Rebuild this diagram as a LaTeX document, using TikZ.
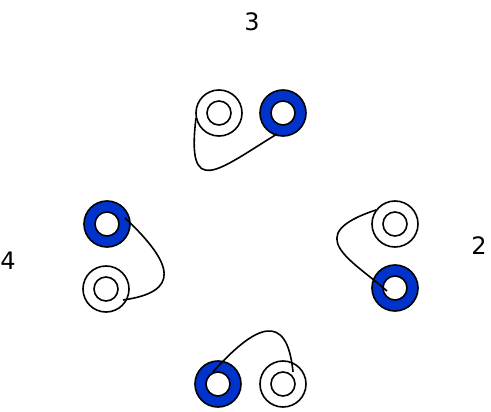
\documentclass[tikz,border=0pt]{standalone}
\usepackage{fontspec}
\setmainfont{DejaVu Sans}
\usetikzlibrary{calc}
\definecolor{ringblue}{HTML}{0033CC}
\tikzset{
  ring/.style={circle, draw=black, line width=1.6pt, minimum size=46pt, inner sep=0pt},
  whitering/.style={ring, fill=white},
  bluering/.style={ring, fill=ringblue},
  hole/.style={circle, draw=black, line width=1.6pt, fill=white, minimum size=24pt, inner sep=0pt},
  cable/.style={draw=black, line width=1.6pt},
  lbl/.style={font=\fontsize{24}{24}\selectfont, inner sep=0pt}
}
\begin{document}
\begin{tikzpicture}[x=1pt,y=-1pt]
\useasboundingbox (0,0) rectangle (491,412);
% group 3 (top)
\node[whitering] (w3) at (219,113) {};
\node[hole] (w3h) at (219,113) {};
\node[bluering] (b3) at (283,113) {};
\node[hole] (b3h) at (283,113) {};
\coordinate (w3s) at (196,118);
\coordinate (b3e) at (277,134);
\draw[cable] (w3s) .. controls (186,200) and (218,170) .. (b3e);
% group 4 (left)
\node[bluering] (b4) at (107,224) {};
\node[hole] (b4h) at (107,224) {};
\node[whitering] (w4) at (106,289) {};
\node[hole] (w4h) at (106,289) {};
\coordinate (b4s) at (125,218);
\coordinate (w4e) at (123,300);
\draw[cable] (b4s) .. controls (175,265) and (180,292) .. (w4e);
% group 2 (right)
\node[whitering] (w2) at (395,224) {};
\node[hole] (w2h) at (395,224) {};
\node[bluering] (b2) at (395,288) {};
\node[hole] (b2h) at (395,288) {};
\coordinate (w2s) at (376,210);
\coordinate (b2e) at (387,291);
\draw[cable] (w2s) .. controls (300,235) and (352,260) .. (b2e);
% group 1 (bottom)
\node[bluering] (b1) at (218,384) {};
\node[hole] (b1h) at (218,384) {};
\node[whitering] (w1) at (283,384) {};
\node[hole] (w1h) at (283,384) {};
\coordinate (b1s) at (213,372);
\coordinate (w1e) at (293,372);
\draw[cable] (b1s) .. controls (255,325) and (287,310) .. (w1e);
% labels
\node[lbl] (l3) at (252,22) {3};
\node[lbl] (l2) at (479,246) {2};
\node[lbl] (l4) at (8,261) {4};
\end{tikzpicture}
\end{document}
